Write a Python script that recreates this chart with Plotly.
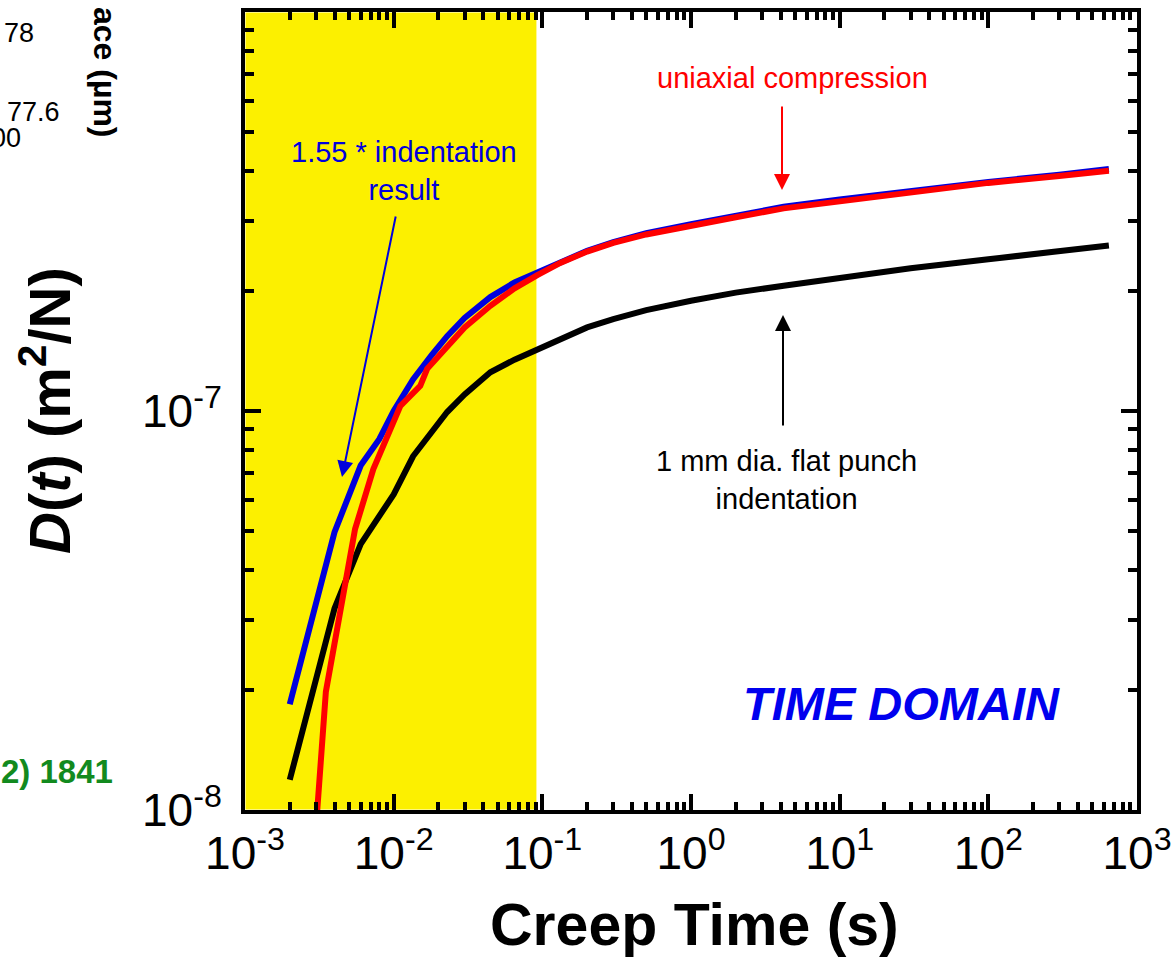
import plotly.graph_objects as go

# ---------------- data ----------------
t_ind = [0.002, 0.004, 0.006, 0.008, 0.010, 0.0135, 0.018, 0.0229, 0.030, 0.0447,
         0.065, 0.0925, 0.132, 0.2, 0.3, 0.5, 1.0, 2.0, 4.2, 10.0, 30.0, 100.0, 300.0, 647.0]
d_ind = [1.19e-8, 3.2e-8, 4.64e-8, 5.42e-8, 6.18e-8, 7.7e-8, 8.9e-8, 9.94e-8, 1.10e-7, 1.25e-7,
         1.345e-7, 1.43e-7, 1.52e-7, 1.62e-7, 1.70e-7, 1.79e-7, 1.89e-7, 1.98e-7, 2.06e-7,
         2.16e-7, 2.28e-7, 2.40e-7, 2.51e-7, 2.60e-7]
d_ind_scaled = [1.84e-8, 4.97e-8, 7.3e-8, 8.5e-8, 1.00e-7, 1.20e-7, 1.38e-7, 1.54e-7, 1.71e-7,
                1.93e-7, 2.10e-7, 2.23e-7, 2.36e-7, 2.52e-7, 2.65e-7, 2.79e-7, 2.94e-7,
                3.09e-7, 3.25e-7, 3.39e-7, 3.56e-7, 3.75e-7, 3.91e-7, 4.04e-7]

t_uni = [0.0030, 0.0035, 0.0055, 0.0073, 0.0111, 0.0151, 0.0168, 0.0229, 0.030, 0.0447,
         0.065, 0.0925, 0.132, 0.2, 0.3, 0.5, 1.0, 2.0, 4.2, 10.0, 30.0, 100.0, 300.0, 647.0]
d_uni = [9.0e-9, 1.98e-8, 5.06e-8, 7.15e-8, 1.03e-7, 1.156e-7, 1.276e-7, 1.456e-7, 1.62e-7,
         1.835e-7, 2.03e-7, 2.19e-7, 2.35e-7, 2.51e-7, 2.64e-7, 2.77e-7, 2.92e-7, 3.06e-7,
         3.22e-7, 3.36e-7, 3.54e-7, 3.73e-7, 3.88e-7, 4.00e-7]

shade_end = 0.092  # end of the shaded (yellow) time window

x_tickvals = [1e-3, 1e-2, 1e-1, 1e0, 1e1, 1e2, 1e3]
x_ticktext = ["10<sup>-3</sup>", "10<sup>-2</sup>", "10<sup>-1</sup>", "10<sup>0</sup>",
              "10<sup>1</sup>", "10<sup>2</sup>", "10<sup>3</sup>"]
y_tickvals = [1e-8, 1e-7]
y_ticktext = ["10<sup>-8</sup>", "10<sup>-7</sup>"]

x_minor = [m * 10.0 ** e for e in range(-3, 3) for m in range(2, 10)]
y_minor = [m * 10.0 ** e for e in range(-8, -6) for m in range(2, 10)]

FONT = "Liberation Sans, Arial, sans-serif"

fig = go.Figure()
fig.add_trace(go.Scatter(x=t_ind, y=d_ind, mode="lines",
                         line=dict(color="black", width=6), showlegend=False))
fig.add_trace(go.Scatter(x=t_ind, y=d_ind_scaled, mode="lines",
                         line=dict(color="#0000DD", width=6), showlegend=False))
fig.add_trace(go.Scatter(x=t_uni, y=d_uni, mode="lines",
                         line=dict(color="#FF0000", width=6), showlegend=False))

fig.add_shape(type="rect", xref="x", yref="paper", x0=1e-3, x1=shade_end, y0=0, y1=1,
              fillcolor="#FCF000", line=dict(color="white", width=1), layer="below")

axis_common = dict(
    type="log", showline=True, linecolor="black", linewidth=4, mirror="ticks",
    ticks="inside", ticklen=16, tickwidth=4, tickcolor="black",
    showgrid=False, zeroline=False,
    tickfont=dict(family=FONT, size=46, color="black"),
)

fig.update_xaxes(**axis_common, range=[-3, 3], tickmode="array",
                 tickvals=x_tickvals, ticktext=x_ticktext, ticklabelstandoff=0,
                 minor=dict(ticks="inside", ticklen=8, tickwidth=4, tickcolor="black",
                            tickmode="array", tickvals=x_minor, showgrid=False))
fig.update_yaxes(**axis_common, range=[-8, -6], tickmode="array",
                 tickvals=y_tickvals, ticktext=y_ticktext, ticklabelstandoff=10,
                 minor=dict(ticks="inside", ticklen=9, tickwidth=4, tickcolor="black",
                            tickmode="array", tickvals=y_minor, showgrid=False))

PW, PH, L, B = 892, 798, 245, 153

def px(x):
    return (x - L) / PW

def py(y):
    return (963 - B - y) / PH

def label(text, x, y, size, color="black", xanchor="center", angle=0):
    return dict(text=text, x=px(x), y=py(y), xref="paper", yref="paper", showarrow=False,
                xanchor=xanchor, yanchor="middle", textangle=angle,
                font=dict(family=FONT, size=size, color=color))

def arrow(x, y, ax, ay, color):
    return dict(text="", x=px(x), y=py(y), xref="paper", yref="paper", showarrow=True,
                ax=ax, ay=ay, arrowcolor=color, arrowwidth=2, arrowhead=2, arrowsize=1.6)

ann = [
    label("<b>Creep Time (s)</b>", 694, 925, 59),
    label("<b><i>D</i>(<i>t</i>) (m<sup>2</sup>/N)</b>", 45, 411, 58, angle=-90),
    label("uniaxial compression", 792, 78, 29, "#FF0000"),
    label("1.55 * indentation<br>result", 404, 171, 29, "#0000DD"),
    label("1 mm dia. flat punch<br>indentation", 786, 480, 29),
    label("<b><i>TIME DOMAIN</i></b>", 901, 703, 47, "#0000EE"),
    arrow(782, 190, 0, -85, "#FF0000"),
    arrow(783, 315, 0, 112, "black"),
    arrow(342, 477, 54, -262, "#0000DD"),
    # fragments of neighbouring panels at the left edge
    label("78", 36, 33, 27, xanchor="right"),
    label("77.6", 62, 112, 27, xanchor="right"),
    label("00", 23, 138, 27, xanchor="right"),
    label("<b>ace (µm)</b>", 105, 72, 32, angle=90),
    label("<b>2) 1841</b>", 115, 771, 33, "#128A1E", xanchor="right"),
]

fig.update_layout(
    width=1176, height=963,
    margin=dict(l=L, r=1176 - L - PW, t=963 - B - PH, b=B, autoexpand=False),
    paper_bgcolor="white", plot_bgcolor="white",
    annotations=ann, showlegend=False,
    font=dict(family=FONT, color="black"),
)

fig.write_html("out.html")
